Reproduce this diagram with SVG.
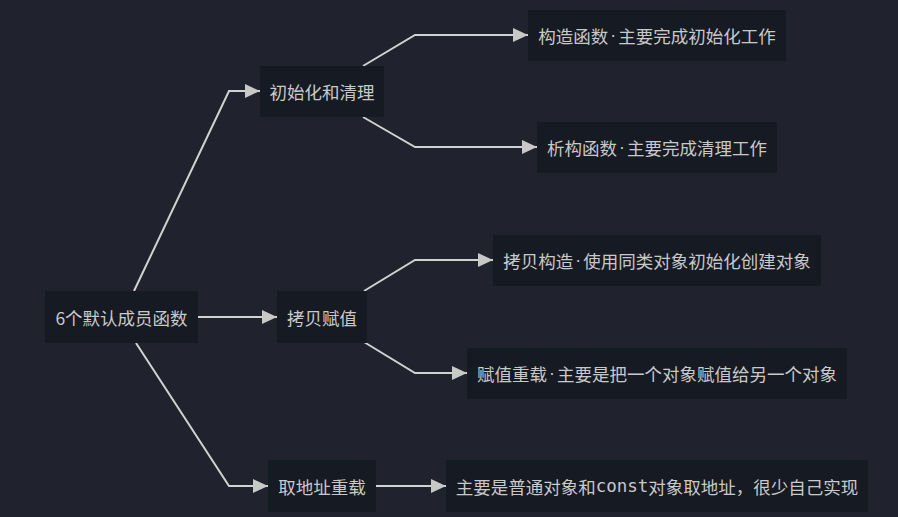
<svg xmlns="http://www.w3.org/2000/svg" width="898" height="517" viewBox="0 0 898 517">
<defs>
<marker id="arr" markerWidth="16" markerHeight="14" refX="15" refY="7" orient="auto" markerUnits="userSpaceOnUse">
<path d="M0,0 L15,7 L0,14 Z" fill="#c8c8c4"/>
</marker>
<style>
.bg{fill:#20232d}
.node rect{fill:#161a23}
.node text{fill:#c9c9c9;font-family:"Noto Sans CJK SC","Noto Sans",sans-serif;font-size:17.5px;text-anchor:middle;dominant-baseline:central}
.mono{font-family:"DejaVu Sans Mono","Liberation Mono",monospace}
.d{font-family:"Liberation Sans",sans-serif}
#edges path{fill:none;stroke:#d2d2d0;stroke-width:2;marker-end:url(#arr)}
</style>
</defs>
<rect class="bg" x="0" y="0" width="898" height="517"/>
<g id="edges">
<path d="M134,291 L229,91 L260,91"/>
<path d="M198,317 L277,317"/>
<path d="M136,343 L229,486 L268,486"/>
<path d="M363,66 L415,35 L528,35"/>
<path d="M363,117 L415,147 L537,147"/>
<path d="M364,291 L415,260 L493,260"/>
<path d="M364,342 L415,373 L467,373"/>
<path d="M376,486 L446,486"/>
</g>
<g id="root" class="node"><rect x="45" y="291" width="153" height="52"/><text x="121.5" y="317">6个默认成员函数</text></g>
<g id="init" class="node"><rect x="260" y="66" width="124" height="51"/><text x="322" y="91">初始化和清理</text></g>
<g id="ctor" class="node"><rect x="528" y="10" width="258" height="51"/><text x="657" y="35">构造函数<tspan class="d" dx="2">·</tspan><tspan dx="2">主要完成初始化工作</tspan></text></g>
<g id="dtor" class="node"><rect x="537" y="122" width="240" height="51"/><text x="657" y="147">析构函数<tspan class="d" dx="2">·</tspan><tspan dx="2">主要完成清理工作</tspan></text></g>
<g id="copy" class="node"><rect x="277" y="291" width="90" height="52"/><text x="322" y="317">拷贝赋值</text></g>
<g id="copyctor" class="node"><rect x="493" y="235" width="328" height="51"/><text x="657" y="260">拷贝构造<tspan class="d" dx="2">·</tspan><tspan dx="2">使用同类对象初始化创建对象</tspan></text></g>
<g id="assign" class="node"><rect x="467" y="348" width="380" height="51"/><text x="657" y="373">赋值重载<tspan class="d" dx="2">·</tspan><tspan dx="2">主要是把一个对象赋值给另一个对象</tspan></text></g>
<g id="addr" class="node"><rect x="268" y="460" width="108" height="52"/><text x="322" y="486">取地址重载</text></g>
<g id="addrdesc" class="node"><rect x="446" y="460" width="422" height="52"/><text x="657" y="486">主要是普通对象和<tspan class="mono">const</tspan>对象取地址，很少自己实现</text></g>
</svg>
